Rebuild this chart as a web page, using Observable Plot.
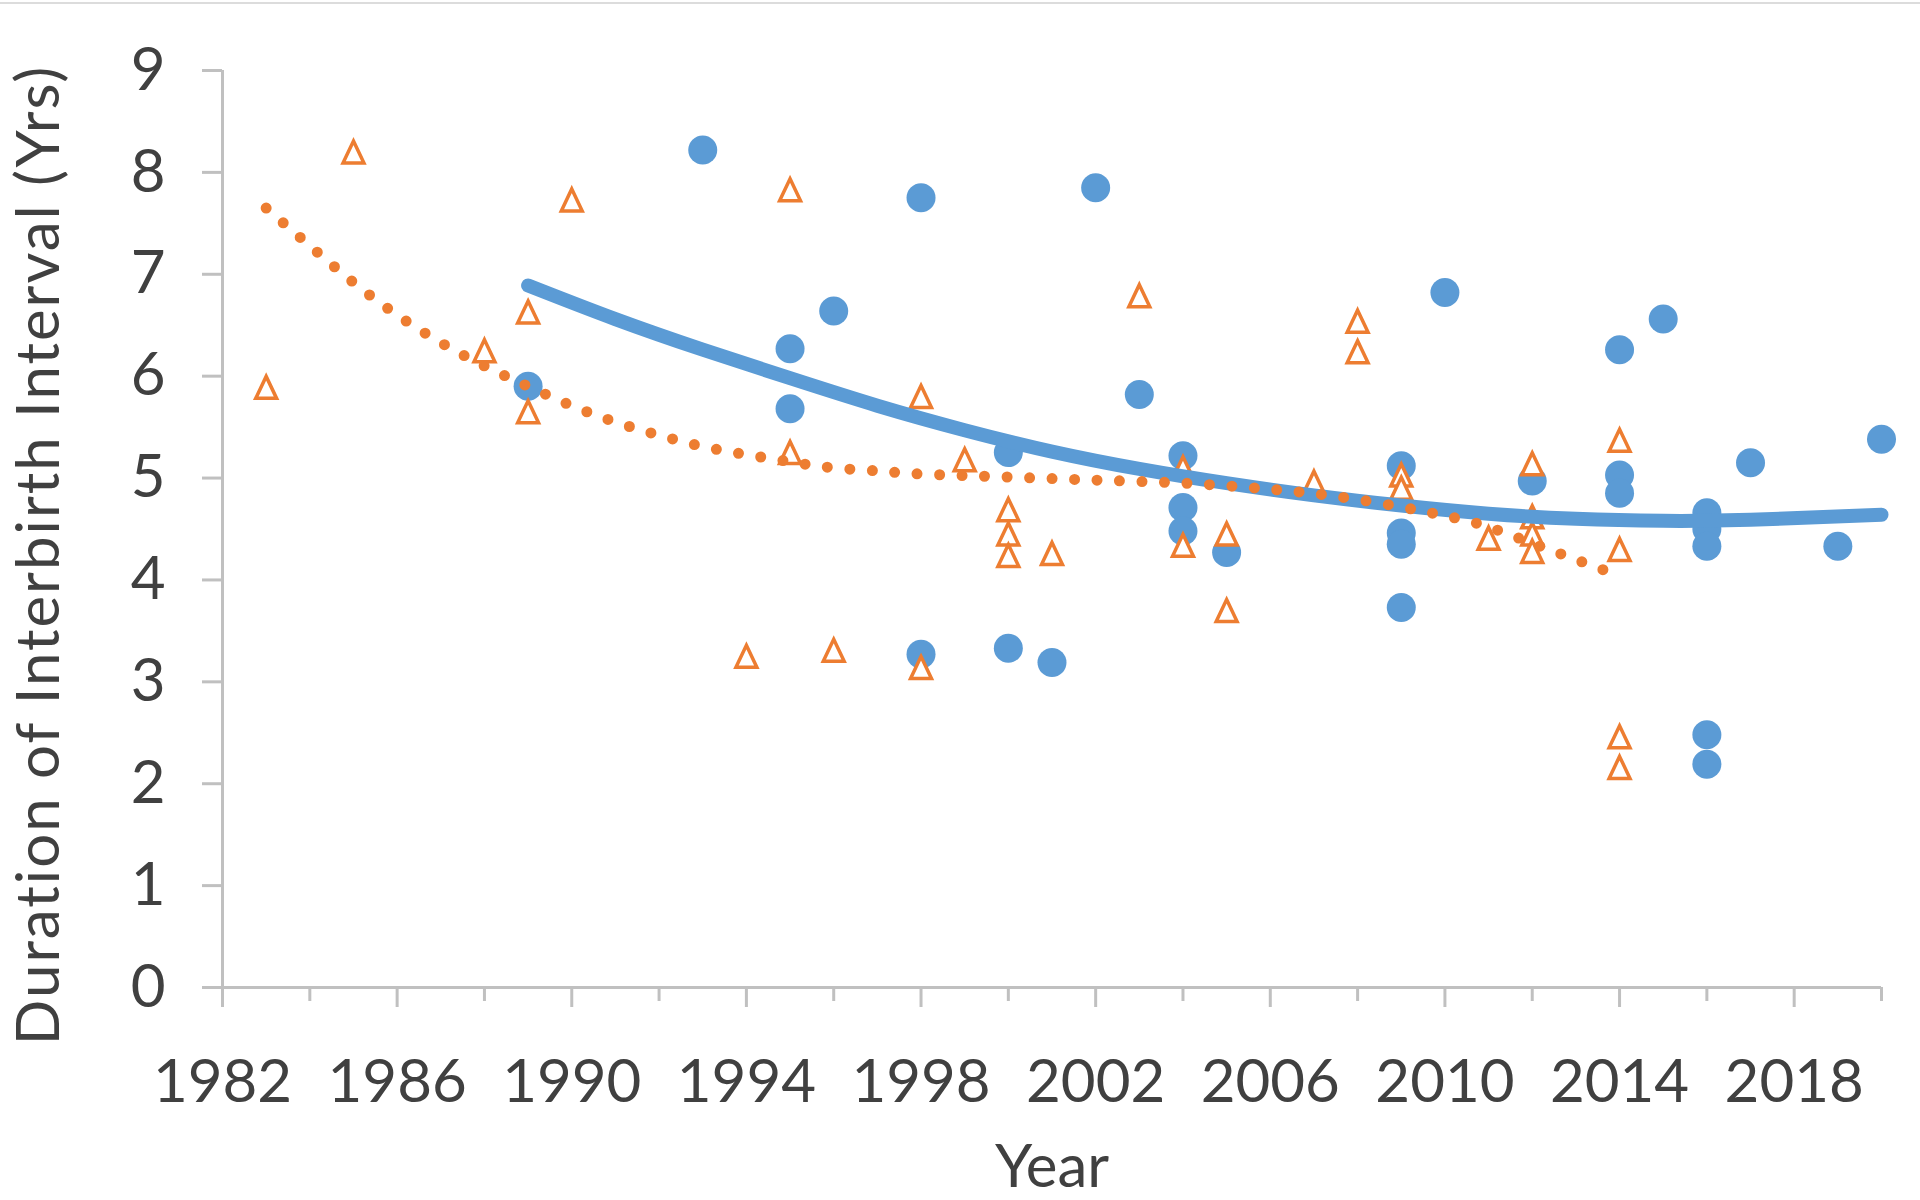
<!DOCTYPE html>
<html><head><meta charset="utf-8">
<script src="https://cdn.jsdelivr.net/npm/d3@7"></script>
<script src="https://cdn.jsdelivr.net/npm/@observablehq/plot@0.6"></script>
<style>
html,body{margin:0;padding:0;background:#fff;}
#chart{position:relative;width:1920px;height:1200px;overflow:hidden;}
#topline{position:absolute;left:0;top:2px;width:1920px;height:2px;background:#dcdcdc;}
#chart svg{position:absolute;left:0;top:0;}
</style></head><body>
<div id="chart"><div id="topline"></div></div>
<script>
// Series 1 (blue filled circles)
const blueYears  = [1989,1993,1995,1995,1996,1998,1998,2000,2000,2001,2002,2003,2004,2004,2004,2005,2009,2009,2009,2009,2010,2012,2014,2014,2014,2015,2016,2016,2016,2016,2016,2017,2019,2020];
const blueValues = [5.90,8.22,6.27,5.68,6.64,7.75,3.27,5.25,3.33,3.19,7.85,5.82,5.22,4.71,4.48,4.27,5.12,4.46,4.35,3.73,6.82,4.97,6.26,5.03,4.85,6.56,4.66,4.50,4.33,2.48,2.19,5.15,4.33,5.38];

// Series 2 (orange open triangles)
const orangeYears  = [1983,1985,1988,1989,1989,1990,1994,1995,1995,1996,1998,1998,1999,2000,2000,2000,2001,2003,2004,2004,2005,2005,2007,2008,2008,2009,2009,2011,2012,2012,2012,2012,2014,2014,2014,2014];
const orangeValues = [5.89,8.20,6.25,6.63,5.65,7.73,3.25,7.83,5.25,3.31,5.80,3.14,5.18,4.69,4.45,4.24,4.26,6.79,5.10,4.34,4.45,3.70,4.96,6.54,6.24,5.03,4.90,4.41,5.14,4.62,4.45,4.28,5.37,4.30,2.46,2.16];

// Trend lines
const blueTrendYears  = [1989,1991,1993,1995,1997,1999,2001,2003,2005,2007,2009,2011,2013,2015,2017,2020];
const blueTrendValues = [6.89,6.56,6.26,5.98,5.71,5.47,5.26,5.09,4.95,4.83,4.73,4.65,4.60,4.58,4.59,4.64];
const orangeTrendYears  = [1983,1984,1985,1986,1987,1988,1989,1990,1991,1992,1993,1994,1995,1996,1997,1998,2000,2002,2004,2006,2008,2010,2011,2012,2013,2014];
const orangeTrendValues = [7.65,7.28,6.92,6.60,6.33,6.10,5.90,5.71,5.55,5.42,5.31,5.23,5.16,5.10,5.07,5.04,5.01,4.98,4.95,4.89,4.79,4.63,4.52,4.36,4.20,4.04];

// Axes
const yTicks = [0,1,2,3,4,5,6,7,8,9];
const xLabelTicks = [1982,1986,1990,1994,1998,2002,2006,2010,2014,2018];
const xMinorTicks = [1984,1988,1992,1996,2000,2004,2008,2012,2016,2020];
const yTitle = "Duration of Interbirth Interval (Yrs)";
const xTitle = "Year";

const BLUE = "#5B9BD5", ORANGE = "#ED7D31", TEXT = "#404040", AXIS = "#c0c0c0";
const FONT = 60;

const blue = blueYears.map((y,i)=>({year:y, value:blueValues[i]}));
const orange = orangeYears.map((y,i)=>({year:y, value:orangeValues[i]}));
const blueTrend = blueTrendYears.map((y,i)=>({year:y, value:blueTrendValues[i]}));
const orangeTrend = orangeTrendYears.map((y,i)=>({year:y, value:orangeTrendValues[i]}));

// Excel-style isosceles triangle marker, centred on its bounding box
const excelTriangle = {
  draw(context, size) {
    const r = Math.sqrt(size / Math.PI);
    const h = r, w = r * 0.95;
    context.moveTo(0, -h);
    context.lineTo(w, h);
    context.lineTo(-w, h);
    context.closePath();
  }
};

const plot = Plot.plot({
  width:1920, height:1200,
  marginLeft:222, marginRight:39, marginTop:70, marginBottom:213,
  style:{fontFamily:"Lato, 'Open Sans', sans-serif", background:"transparent", overflow:"visible"},
  x:{domain:[1982,2020]},
  y:{domain:[0,9]},
  marks:[
    Plot.ruleX([1982], {stroke:AXIS, strokeWidth:3}),
    Plot.ruleY([0], {stroke:AXIS, strokeWidth:3}),
    Plot.axisY({ticks:yTicks, tickSize:20, tickPadding:37, fontSize:FONT, color:TEXT, stroke:AXIS, strokeWidth:3, label:null}),
    Plot.axisX({ticks:xLabelTicks, tickSize:20, tickPadding:52, fontSize:FONT, color:TEXT, stroke:AXIS, strokeWidth:3, tickFormat:d=>String(d), label:null}),
    Plot.axisX({ticks:xMinorTicks, tickSize:14, fontSize:FONT, color:TEXT, stroke:AXIS, strokeWidth:3, tickFormat:()=>"", label:null}),
    Plot.dot(blue, {x:"year", y:"value", r:14.5, fill:BLUE}),
    Plot.dot(orange, {x:"year", y:"value", symbol:excelTriangle, r:11, stroke:ORANGE, strokeWidth:3.5, fill:"white"}),
    Plot.line(blueTrend, {x:"year", y:"value", stroke:BLUE, strokeWidth:14, curve:"natural", strokeLinecap:"round"}),
    Plot.line(orangeTrend, {x:"year", y:"value", stroke:ORANGE, strokeWidth:11, strokeDasharray:"0,22.5", strokeLinecap:"round", curve:"natural"}),
    Plot.text([yTitle], {frameAnchor:"left", textAnchor:"middle", lineAnchor:"middle", rotate:-90, dx:-183, dy:26, fontSize:FONT, fill:TEXT}),
    Plot.text([xTitle], {frameAnchor:"bottom", textAnchor:"middle", lineAnchor:"middle", dy:180, fontSize:FONT, fill:TEXT})
  ]
});
d3.select(plot).selectAll("text").filter(function(){ return this.textContent === yTitle; }).attr("letter-spacing", "2px");
document.getElementById("chart").appendChild(plot);
</script>
</body></html>
